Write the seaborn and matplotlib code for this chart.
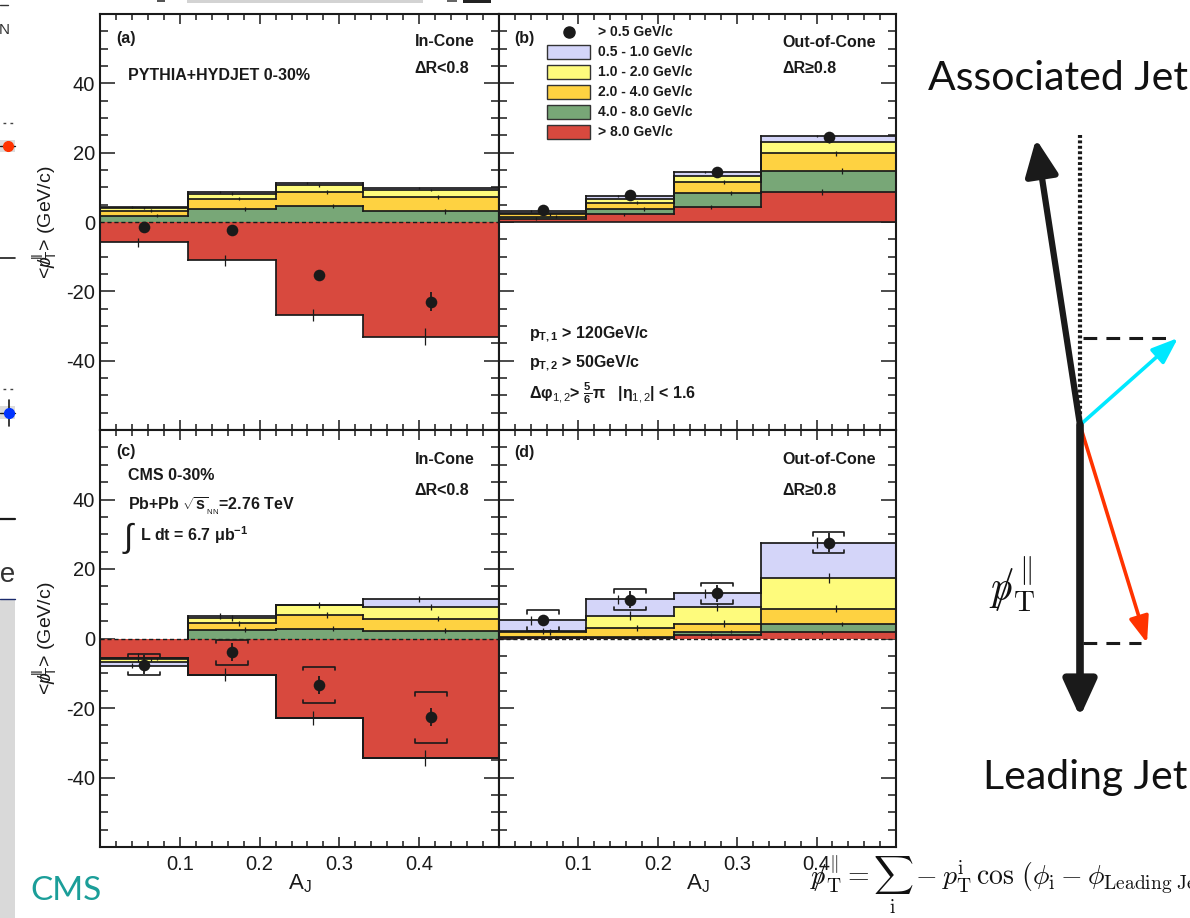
import numpy as np
import matplotlib
matplotlib.use("Agg")
import matplotlib.pyplot as plt
import seaborn as sns
from matplotlib.patches import Rectangle
from matplotlib.ticker import FixedLocator, MultipleLocator

sns.set_theme(style="ticks")
plt.rcParams["font.family"] = ["Liberation Sans", "DejaVu Sans"]
plt.rcParams["mathtext.fontset"] = "custom"
plt.rcParams["mathtext.rm"] = "Liberation Sans"
plt.rcParams["mathtext.it"] = "Liberation Sans:italic"
plt.rcParams["mathtext.bf"] = "Liberation Sans:bold"
plt.rcParams["axes.unicode_minus"] = False

# ---------------- data ----------------
aj_edges = [0.0, 0.11, 0.22, 0.33, 0.5]
aj_points = [0.055, 0.165, 0.275, 0.415]
y_ticks = [-40, -20, 0, 20, 40]
x_ticks = [0.1, 0.2, 0.3, 0.4]

band_labels = ["> 8.0 GeV/c", "4.0 - 8.0 GeV/c", "2.0 - 4.0 GeV/c",
               "1.0 - 2.0 GeV/c", "0.5 - 1.0 GeV/c"]
total_label = "> 0.5 GeV/c"

# rows: >8, 4-8, 2-4, 1-2, 0.5-1 GeV/c ; columns: A_J bins
sim_in = [[-5.85, -11.1, -26.9, -33.1],
          [1.8, 3.75, 4.7, 3.1],
          [1.45, 2.97, 4.0, 4.1],
          [0.7, 1.44, 1.9, 2.0],
          [0.3, 0.57, 0.55, 0.5]]
sim_in_err = [[1.3, 1.5, 1.8, 2.4],
              [0.5, 0.6, 0.6, 0.7],
              [0.4, 0.5, 0.6, 0.6],
              [0.3, 0.4, 0.4, 0.4],
              [0.3, 0.3, 0.3, 0.3]]
sim_in_total = [-1.5, -2.3, -15.4, -23.0]
sim_in_total_err = [0.6, 0.6, 1.0, 2.8]

sim_out = [[0.95, 2.2, 4.3, 8.6],
           [0.55, 1.6, 3.95, 6.15],
           [0.7, 1.75, 3.25, 5.1],
           [0.5, 1.15, 1.9, 3.3],
           [0.55, 0.8, 0.9, 1.65]]
sim_out_err = [[0.4, 0.5, 0.6, 0.8],
               [0.4, 0.5, 0.6, 0.8],
               [0.4, 0.5, 0.6, 0.7],
               [0.3, 0.4, 0.5, 0.5],
               [0.3, 0.3, 0.3, 0.3]]
sim_out_total = [3.45, 7.77, 14.5, 24.6]
sim_out_total_err = [0.4, 0.5, 0.5, 0.6]

cms_in = [[-5.6, -10.4, -22.9, -34.4],
          [-0.1, 2.5, 2.8, 2.2],
          [-0.3, 1.9, 4.0, 3.55],
          [-0.8, 1.45, 2.9, 3.35],
          [-1.0, 0.55, 0.0, 2.3]]
cms_in_err = [[1.3, 1.9, 2.0, 2.2],
              [0.5, 0.7, 0.7, 0.7],
              [0.6, 0.7, 0.8, 0.8],
              [0.7, 0.8, 0.8, 0.8],
              [0.8, 0.9, 0.9, 0.9]]
cms_in_total = [-7.5, -3.9, -13.4, -22.7]
cms_in_stat = [2.8, 2.5, 2.6, 2.6]
cms_in_syst = [3.1, 3.6, 5.3, 7.25]

cms_out = [[0.2, 0.2, 1.15, 1.8],
           [0.2, 0.1, 0.85, 2.4],
           [1.5, 2.8, 2.2, 4.3],
           [0.3, 3.5, 4.8, 8.9],
           [3.0, 4.7, 4.0, 10.2]]
cms_out_err = [[0.3, 0.3, 0.4, 0.5],
               [0.3, 0.3, 0.4, 0.5],
               [0.8, 0.9, 1.0, 1.0],
               [0.9, 1.2, 1.2, 1.4],
               [1.2, 1.3, 1.3, 1.5]]
cms_out_total = [5.2, 11.2, 13.0, 27.6]
cms_out_stat = [1.7, 2.5, 2.5, 2.8]
cms_out_syst = [2.9, 3.0, 3.0, 3.0]

# ---------------- style ----------------
band_colors = ["#d8493e", "#78a777", "#fed241", "#fefb7c", "#d4d5f9"]
band_dx = [-0.008, 0.017, 0.009, 0.0, -0.015]
LW = 1.25

W, H = 1190, 918
fig = plt.figure(figsize=(W / 100, H / 100), dpi=100)
fig.patch.set_facecolor("white")


def px_axes(x0, y0, x1, y1):
    return fig.add_axes([x0 / W, 1 - y1 / H, (x1 - x0) / W, (y1 - y0) / H])


def step_outline(ax, tops):
    for i in range(len(tops)):
        if tops[i] != 0:
            ax.hlines(tops[i], aj_edges[i], aj_edges[i + 1], colors="k",
                      lw=LW, zorder=3, capstyle="projecting")
    for i in range(1, len(tops)):
        if tops[i] != tops[i - 1]:
            ax.vlines(aj_edges[i], tops[i - 1], tops[i], colors="k",
                      lw=LW, zorder=3, capstyle="projecting")


def draw_panel(ax, comps, comp_err, total, total_err, syst=None, zero_ls="--"):
    comps = np.asarray(comps, float)
    comp_err = np.asarray(comp_err, float)
    pos = np.zeros(comps.shape[1])
    neg = np.zeros(comps.shape[1])
    for k in range(len(comps)):
        v = comps[k]
        base = np.where(v >= 0, pos, neg)
        top = base + v
        ax.stairs(top, aj_edges, baseline=base, fill=True,
                  color=band_colors[k], lw=0, zorder=2)
        pos = np.where(v >= 0, top, pos)
        neg = np.where(v < 0, top, neg)
        if (v > 0).any():
            step_outline(ax, pos.copy())
        if (v < 0).any():
            step_outline(ax, neg.copy())
        ok = v != 0
        xs = np.asarray(aj_points) + band_dx[k]
        ax.vlines(xs[ok], (top - comp_err[k])[ok], (top + comp_err[k])[ok],
                  colors="k", lw=0.9, zorder=4)
    if zero_ls == "--":
        ax.axhline(0, color="k", lw=1.0, ls=(0, (3, 2)), zorder=3.5)
    else:
        ax.axhline(0, color="k", lw=1.2, zorder=3.5)
    tot = np.asarray(total, float)
    err = np.asarray(total_err, float)
    ax.vlines(aj_points, tot - err, tot + err, colors="k", lw=1.3, zorder=5)
    if syst is not None:
        hw, tip = 0.02, 1.0
        for x, y, s in zip(aj_points, tot, syst):
            for sgn in (1, -1):
                yy = y + sgn * s
                ax.plot([x - hw, x - hw, x + hw, x + hw],
                        [yy - sgn * tip, yy, yy, yy - sgn * tip],
                        color="k", lw=1.2, zorder=5)
    sns.scatterplot(x=aj_points, y=total, ax=ax, color="k", s=70,
                    linewidth=0, zorder=6, legend=False)


ylab = r"<$p\!\!\!/_{\rm T}^{\|}$> (GeV/c)"


def style_axes(ax, left, bottom):
    ax.set_xlim(0, 0.5)
    ax.set_ylim(-60, 60)
    ax.set_facecolor("white")
    ax.xaxis.set_major_locator(FixedLocator(x_ticks))
    ax.xaxis.set_minor_locator(MultipleLocator(0.02))
    ax.yaxis.set_major_locator(FixedLocator(y_ticks))
    ax.yaxis.set_minor_locator(MultipleLocator(5))
    ax.set_xticklabels([f"{v:g}" for v in x_ticks])
    ax.set_yticklabels([f"{v:g}" for v in y_ticks])
    ax.tick_params(axis="both", which="both", direction="in", top=True,
                   right=True, colors="k", width=1.1, labelcolor="k")
    ax.tick_params(axis="y", which="major", length=10.5, labelsize=14.5, pad=3.5)
    ax.tick_params(axis="y", which="minor", length=5.5)
    ax.tick_params(axis="x", which="major", length=7, labelsize=14.5, pad=5.5)
    ax.tick_params(axis="x", which="minor", length=4)
    ax.tick_params(labelleft=left, labelbottom=bottom)
    for sp in ax.spines.values():
        sp.set_color("k")
        sp.set_linewidth(1.5)
        sp.set_zorder(8)
    if left:
        ax.set_ylabel(ylab, fontsize=14, color="k")
        ax.yaxis.set_label_coords(-0.10, 0.5)
    if bottom:
        ax.set_xlabel(r"A$_{\rm J}$", fontsize=16, color="k")
        ax.xaxis.set_label_coords(0.5, -0.062)


def label(ax, x, y, s, size=11.5, weight="bold", **kw):
    ax.text(x, y, s, transform=ax.transAxes, ha="left", va="center",
            fontsize=size, fontweight=weight, color="k", zorder=9, **kw)


ax_a = px_axes(100, 14, 499, 430)
ax_b = px_axes(499, 14, 896, 430)
ax_c = px_axes(100, 430, 499, 847)
ax_d = px_axes(499, 430, 896, 847)

draw_panel(ax_a, sim_in, sim_in_err, sim_in_total, sim_in_total_err)
draw_panel(ax_b, sim_out, sim_out_err, sim_out_total, sim_out_total_err, zero_ls="-")
draw_panel(ax_c, cms_in, cms_in_err, cms_in_total, cms_in_stat, syst=cms_in_syst)
draw_panel(ax_d, cms_out, cms_out_err, cms_out_total, cms_out_stat, syst=cms_out_syst)

style_axes(ax_a, True, False)
style_axes(ax_b, False, False)
style_axes(ax_c, True, True)
style_axes(ax_d, False, True)

# panel annotations
label(ax_a, 0.040, 0.940, "(a)")
label(ax_a, 0.789, 0.933, "In-Cone")
label(ax_a, 0.789, 0.870, "ΔR<0.8")
label(ax_a, 0.070, 0.852, "PYTHIA+HYDJET 0-30%")

label(ax_b, 0.038, 0.941, "(b)")
label(ax_b, 0.713, 0.931, "Out-of-Cone")
label(ax_b, 0.713, 0.869, "ΔR≥0.8")
label(ax_b, 0.076, 0.231, r"$\mathbf{p}_{\mathbf{T,1}}$ > 120GeV/c")
label(ax_b, 0.076, 0.161, r"$\mathbf{p}_{\mathbf{T,2}}$ > 50GeV/c")
label(ax_b, 0.076, 0.089,
      r"Δφ$_{1,2}$> $\mathbf{\frac{5}{6}}$π   |η$_{1,2}$| < 1.6")

label(ax_c, 0.040, 0.948, "(c)")
label(ax_c, 0.789, 0.929, "In-Cone")
label(ax_c, 0.789, 0.856, "ΔR<0.8")
label(ax_c, 0.070, 0.892, "CMS 0-30%")
label(ax_c, 0.070, 0.818, r"Pb+Pb $\sqrt{\mathbf{s}}_{_{\rm NN}}$=2.76 TeV")
label(ax_c, 0.058, 0.739, "∫", size=24, weight="normal")
label(ax_c, 0.100, 0.748, r"L dt = 6.7 μb$^{\mathbf{-1}}$")

label(ax_d, 0.038, 0.945, "(d)")
label(ax_d, 0.713, 0.929, "Out-of-Cone")
label(ax_d, 0.713, 0.856, "ΔR≥0.8")

# legend in panel (b)
rows_y = [0.957, 0.909, 0.861, 0.813, 0.764, 0.716]
ax_b.plot(0.176, rows_y[0], "o", ms=8, color="k", transform=ax_b.transAxes,
          zorder=9, clip_on=False)
label(ax_b, 0.249, rows_y[0], total_label, size=10)
for yc, k in zip(rows_y[1:], range(len(band_labels) - 1, -1, -1)):
    ax_b.add_patch(Rectangle((0.121, yc - 0.0168), 0.108, 0.0337,
                             transform=ax_b.transAxes, facecolor=band_colors[k],
                             edgecolor="#333333", lw=1.0, zorder=9))
    label(ax_b, 0.249, yc, band_labels[k], size=10)

# ---------------- overlay: sketch, logo, margins ----------------
ov = fig.add_axes([0, 0, 1, 1])
ov.set_xlim(0, W)
ov.set_ylim(H, 0)
ov.axis("off")
ov.set_zorder(10)
ov.patch.set_visible(False)

vertex = np.array([1080.0, 425.0])
assoc_vec = np.array([-44.0, -286.0])
lead_vec = np.array([0.0, 292.0])
track_out = np.array([98.0, -87.0])
track_in = np.array([67.0, 218.0])


def arrow(start, vec, color, lw, hl, hw):
    end = start + vec
    ov.annotate("", xy=tuple(end), xytext=tuple(start),
                arrowprops=dict(arrowstyle=f"-|>,head_length={hl},head_width={hw}",
                                color=color, lw=lw, shrinkA=0, shrinkB=0,
                                mutation_scale=10))


ov.plot([vertex[0], vertex[0]], [vertex[1] + 260, vertex[1] - 292], color="k",
        lw=3.0, ls=(0, (0.7, 0.6)))
for tr, col in ((track_out, "#00e8ff"), (track_in, "#ff3300")):
    yy = vertex[1] + tr[1]
    ov.plot([vertex[0] + 3, vertex[0] + tr[0] - 6], [yy, yy], color="k",
            lw=2.2, ls=(0, (4.5, 3)))
    arrow(vertex, tr, col, 2.6, 1.6, 0.6)
arrow(vertex, assoc_vec, "k", 4.5, 2.2, 1.0)
arrow(vertex, lead_vec, "k", 5.5, 2.2, 1.0)

ov.text(1058, 78, "Associated Jet", ha="center", va="center", fontsize=29.5,
        family="Lato", color="#111111")
ov.text(1085, 778, "Leading Jet", ha="center", va="center", fontsize=29.5,
        family="Lato", color="#111111")
ov.text(1012, 585, r"$p\!\!\!/_{\rm T}^{\|}$", ha="center", va="center",
        fontsize=30, math_fontfamily="cm", color="#111111")
ov.text(810, 885,
        r"$p\!\!\!/_{\rm T}^{\|} = \sum_{\rm i} -p_{\rm T}^{\rm i}\,\cos\,"
        r"(\phi_{\rm i} - \phi_{\rm Leading\ Jet})$",
        ha="left", va="center", fontsize=20, math_fontfamily="cm", color="#111111")
ov.text(30, 891, "CMS", ha="left", va="center", fontsize=24, family="Lato",
        color="#1b9e99")

# left margin remnants
ov.add_patch(Rectangle((0, 600), 15, 318, facecolor="#d9d9d9", edgecolor="none"))
ov.plot([0, 15], [599, 599], color="#1a2a6c", lw=1.0)
ov.plot([0, 8], [5, 5], color="#333333", lw=1.0)
ov.text(10, 30, "N", ha="right", va="center", fontsize=11, color="#333333")
ov.plot([3, 15], [123, 123], color="#444444", lw=1.0, ls=(0, (2, 3)))
ov.plot([3, 15], [389, 389], color="#444444", lw=1.0, ls=(0, (2, 3)))
ov.add_patch(Rectangle((0, 140), 15, 12, facecolor="#dddddd", edgecolor="none"))
ov.add_patch(Rectangle((0, 406), 15, 13, facecolor="#dddddd", edgecolor="none"))
ov.plot([0, 15], [146, 146], color="k", lw=1.0)
ov.plot([0, 15], [413, 413], color="k", lw=1.0)
ov.plot([9, 9], [400, 426], color="k", lw=1.2)
ov.plot([8], [146], "o", ms=7, color="#ff3300")
ov.plot([9], [413], "o", ms=7, color="#0033ff")
ov.plot([0, 15], [258, 258], color="k", lw=1.2)
ov.plot([0, 15], [519, 519], color="k", lw=1.6)
ov.text(16, 575, "ce", ha="right", va="center", fontsize=20, color="#333333")

# top margin remnants
ov.add_patch(Rectangle((187, 0), 236, 2.5, facecolor="#d3d3d3", edgecolor="none"))
ov.add_patch(Rectangle((157, 0), 8, 2, facecolor="#555555", edgecolor="none"))
ov.add_patch(Rectangle((447, 0), 10, 2, facecolor="#666666", edgecolor="none"))
ov.add_patch(Rectangle((463, 0), 28, 2.5, facecolor="#222222", edgecolor="none"))

fig.savefig("out.png", dpi=100)
